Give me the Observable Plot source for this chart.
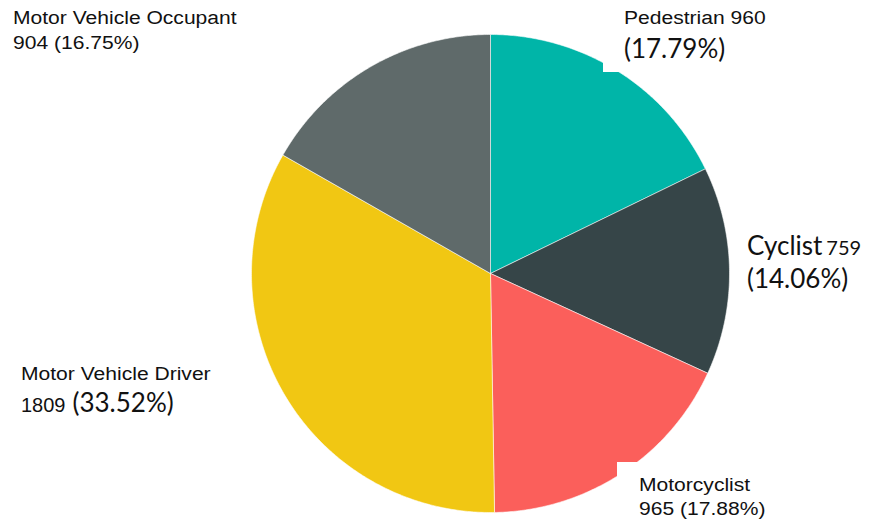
<!DOCTYPE html>
<html>
<head>
<meta charset="utf-8">
<script src="https://cdn.jsdelivr.net/npm/d3@7"></script>
<script src="https://cdn.jsdelivr.net/npm/@observablehq/plot@0.6"></script>
<style>
  body { margin: 0; background: #fff; }
  #wrap { position: relative; width: 869px; height: 524px; overflow: hidden; }
  #chart { position: absolute; left: 0; top: 0; }
  .lab { position: absolute; color: #111; white-space: nowrap; background: #fff; }
  .ar { font-family: "Liberation Sans", Arial, sans-serif; font-size: 18px; display: inline-block; transform: scaleX(1.17); transform-origin: left center; }
  .cb { font-family: Lato, "Open Sans", sans-serif; font-size: 26px; }
  .line { position: absolute; left: 0; white-space: nowrap; }
</style>
</head>
<body>
<div id="wrap">
  <div id="chart"></div>
</div>
<script>
const categories = ["Pedestrian", "Cyclist", "Motorcyclist", "Motor Vehicle Driver", "Motor Vehicle Occupant"];
const counts = [960, 759, 965, 1809, 904];
const percents = ["17.79%", "14.06%", "17.88%", "33.52%", "16.75%"];
const colors = ["#00b5a8", "#364548", "#fb5f5b", "#f1c713", "#5f6a6a"];

const arcs = d3.pie().sort(null).value(d => d.count)(
  categories.map((name, i) => ({name, count: counts[i]}))
);
const points = [];
for (const a of arcs) {
  const name = a.data.name;
  points.push({name, x: 0, y: 0});
  const n = Math.max(2, Math.ceil((a.endAngle - a.startAngle) / (Math.PI / 360)));
  for (let k = 0; k <= n; k++) {
    const t = a.startAngle + (a.endAngle - a.startAngle) * k / n;
    points.push({name, x: Math.sin(t), y: Math.cos(t)});
  }
  points.push({name, x: 0, y: 0});
}

const chart = Plot.plot({
  width: 869,
  height: 524,
  marginLeft: 251,
  marginRight: 140,
  marginTop: 34,
  marginBottom: 12,
  x: {domain: [-1, 1], axis: null},
  y: {domain: [-1, 1], axis: null},
  color: {domain: categories, range: colors},
  marks: [
    Plot.line(points, {x: "x", y: "y", z: "name", fill: "name", stroke: "#ffffff", strokeOpacity: 0.55, strokeWidth: 1, curve: "linear-closed"})
  ]
});
document.getElementById("chart").appendChild(chart);

const wrap = document.getElementById("wrap");
function label(css, html) {
  const d = document.createElement("div");
  d.className = "lab";
  Object.assign(d.style, css);
  d.innerHTML = html;
  wrap.appendChild(d);
}
// Motor Vehicle Occupant
label({left: "13px", top: "0px", width: "260px", height: "60px"},
  `<div class="line" style="top:8px"><span class="ar">${categories[4]}</span></div>
   <div class="line" style="top:33px"><span class="ar">${counts[4]} (${percents[4]})</span></div>`);
// Pedestrian
label({left: "603px", top: "0px", width: "200px", height: "72px"},
  `<div class="line" style="left:21px;top:8px"><span class="ar">${categories[0]} ${counts[0]}</span></div>
   <div class="line cb" style="left:21px;top:32px">(${percents[0]})</div>`);
// Cyclist
label({left: "745px", top: "225px", width: "124px", height: "75px"},
  `<div class="line" style="left:2px;top:4px"><span class="cb">${categories[1]}</span> <span class="cb" style="font-size:20px">${counts[1]}</span></div>
   <div class="line cb" style="left:2px;top:37px">(${percents[1]})</div>`);
// Motor Vehicle Driver
label({left: "20px", top: "355px", width: "225px", height: "70px"},
  `<div class="line" style="left:1px;top:9px"><span class="ar">${categories[3]}</span></div>
   <div class="line" style="left:1px;top:31px"><span class="ar" style="transform:none;font-size:20px">${counts[3]}</span> <span class="cb" style="margin-left:3px">(${percents[3]})</span></div>`);
// Motorcyclist
label({left: "617px", top: "462px", width: "200px", height: "62px"},
  `<div class="line" style="left:22px;top:13px"><span class="ar">${categories[2]}</span></div>
   <div class="line" style="left:22px;top:37px"><span class="ar">${counts[2]} (${percents[2]})</span></div>`);
</script>
</body>
</html>
